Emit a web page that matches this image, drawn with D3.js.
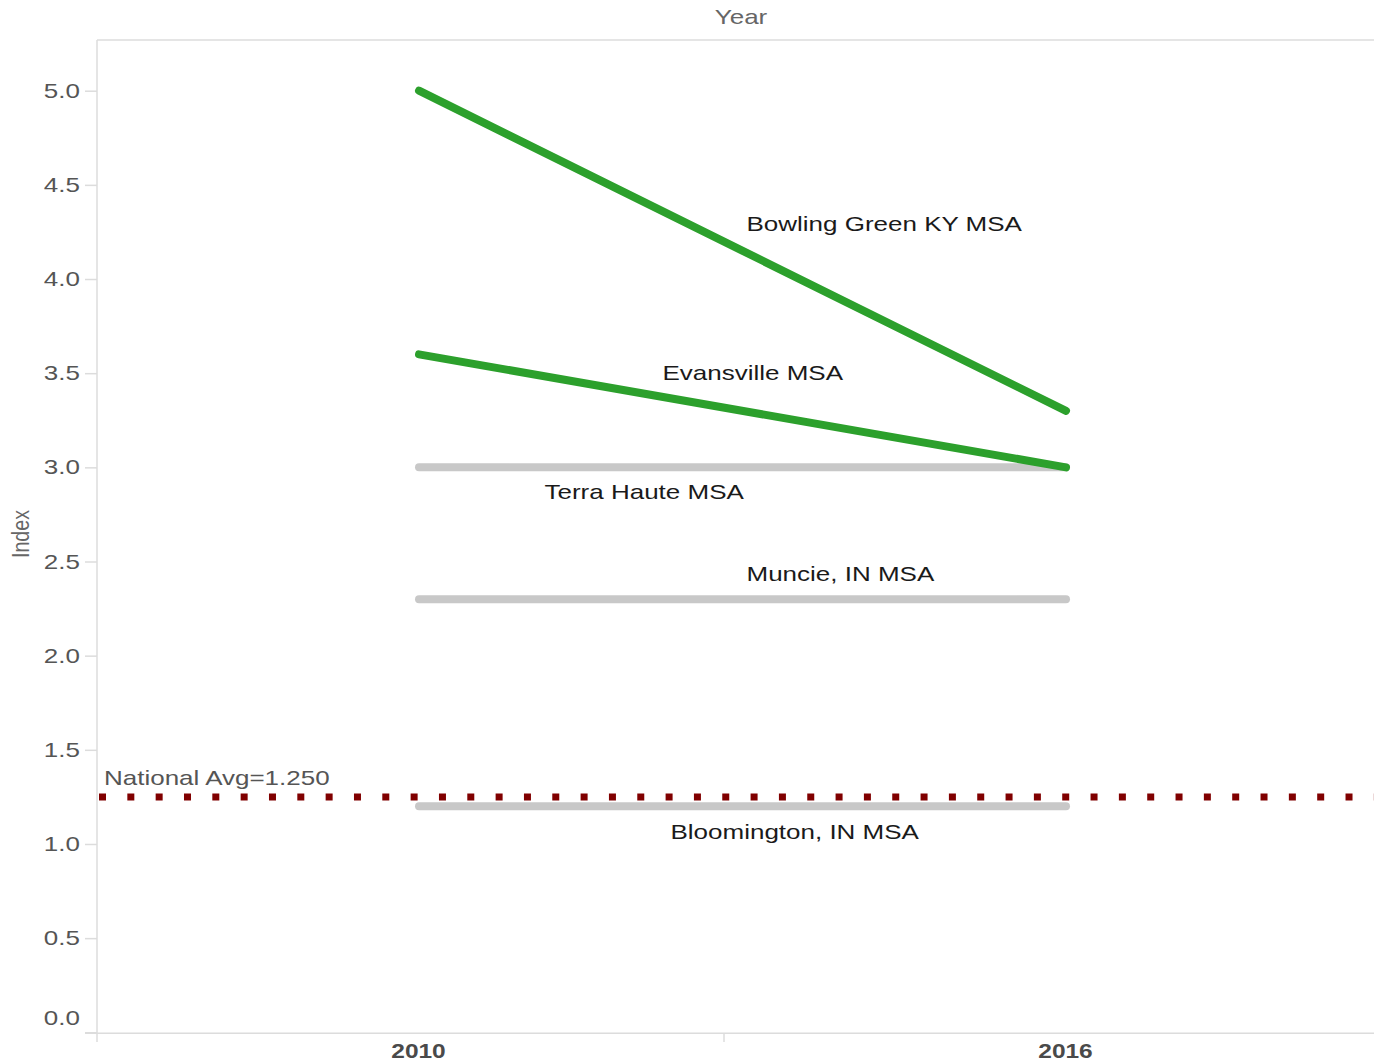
<!DOCTYPE html>
<html>
<head>
<meta charset="utf-8">
<script src="https://cdn.jsdelivr.net/npm/d3@7"></script>
<style>
  html, body { margin: 0; padding: 0; background: #fff; }
  svg { display: block; font-family: "Liberation Sans", Arial, sans-serif; }
</style>
</head>
<body>
<svg id="chart" width="1374" height="1063"></svg>
<script>
// ---- data ----
const years = [2010, 2016];
const yTicks = [0, 0.5, 1.0, 1.5, 2.0, 2.5, 3.0, 3.5, 4.0, 4.5, 5.0];
const seriesNames = ["Bowling Green KY MSA", "Evansville MSA", "Terra Haute MSA", "Muncie, IN MSA", "Bloomington, IN MSA"];
const bowlingGreen = [5.0, 3.3];
const evansville = [3.6, 3.0];
const terraHaute = [3.0, 3.0];
const muncie = [2.3, 2.3];
const bloomington = [1.2, 1.2];
const highlighted = [true, true, false, false, false];
const nationalAvg = 1.25;
const nationalAvgLabel = "National Avg=1.250";
const xTitle = "Year";
const yTitle = "Index";

// ---- style / layout ----
const SX = 1.25; // horizontal text stretch
const FONT = 20.8;
const labelOffsets = [[4, -20], [-80, -31], [-198, 32], [4, -18], [-72, 33]];

const svg = d3.select("#chart");
const W = 1374;
const mLeft = 97, mTop = 40, mBottom = 1033.3, paneRight = 1351;

const x = d3.scaleLinear().domain([2010, 2016]).range([419, 1066]);
const y = d3.scaleLinear().domain([0, 5]).range([1032.3, 90.7]);

const gridColor = "#dcdcdc";

// frame lines
svg.append("line").attr("x1", mLeft).attr("x2", W).attr("y1", mTop).attr("y2", mTop)
  .attr("stroke", gridColor).attr("stroke-width", 1.5);
svg.append("line").attr("x1", mLeft).attr("x2", mLeft).attr("y1", mTop).attr("y2", 1042)
  .attr("stroke", gridColor).attr("stroke-width", 1.5);
svg.append("line").attr("x1", 85).attr("x2", W).attr("y1", mBottom).attr("y2", mBottom)
  .attr("stroke", gridColor).attr("stroke-width", 1.5);
// divider tick between year headers
svg.append("line").attr("x1", (mLeft + paneRight) / 2).attr("x2", (mLeft + paneRight) / 2)
  .attr("y1", mBottom).attr("y2", 1042).attr("stroke", gridColor).attr("stroke-width", 1.5);

// y axis
const yAxis = d3.axisLeft(y).tickValues(yTicks).tickSize(12).tickFormat(d3.format(".1f"));
const gy = svg.append("g").attr("transform", `translate(${mLeft},0)`).call(yAxis);
gy.select(".domain").remove();
gy.selectAll(".tick line").attr("stroke", gridColor).attr("stroke-width", 1.5);
gy.selectAll(".tick text")
  .attr("x", null).attr("dy", null)
  .attr("fill", "#555")
  .style("font-size", FONT + "px")
  .style("font-family", "'Liberation Sans', Arial, sans-serif")
  .attr("text-anchor", "end")
  .attr("transform", d => `translate(-17,${d === 0 ? -8 : 6.5}) scale(${SX},1)`);

// x axis labels (bold years)
const xAxis = d3.axisBottom(x).tickValues(years).tickSize(0).tickFormat(d3.format("d"));
const gx = svg.append("g").attr("transform", `translate(0,${mBottom})`).call(xAxis);
gx.select(".domain").remove();
gx.selectAll(".tick text")
  .attr("y", null).attr("dy", null)
  .attr("fill", "#4a4a4a")
  .style("font-size", "19.6px")
  .style("font-weight", "bold")
  .style("font-family", "'Liberation Sans', Arial, sans-serif")
  .attr("text-anchor", "middle")
  .attr("transform", `translate(-1,24.5) scale(${SX},1)`);

// titles
svg.append("text").text(xTitle)
  .attr("transform", `translate(741,24) scale(${SX},1)`)
  .attr("text-anchor", "middle").attr("fill", "#666")
  .style("font-size", FONT + "px");
svg.append("text").text(yTitle)
  .attr("transform", `translate(29,534) scale(${SX},1) rotate(-90)`)
  .attr("text-anchor", "middle").attr("fill", "#666")
  .style("font-size", "19.6px");

// series
const series = [bowlingGreen, evansville, terraHaute, muncie, bloomington].map((vals, i) => ({
  name: seriesNames[i], hi: highlighted[i], pts: years.map((yr, j) => [yr, vals[j]])
}));
const line = d3.line().x(d => x(d[0])).y(d => y(d[1]));

const order = series.slice().sort((a, b) => (a.hi === b.hi ? 0 : a.hi ? 1 : -1));
svg.append("g").selectAll("path").data(order).join("path")
  .attr("d", d => line(d.pts))
  .attr("fill", "none")
  .attr("stroke", d => d.hi ? "#2ca02c" : "#c8c8c8")
  .attr("stroke-width", 8)
  .attr("stroke-linecap", "round");

// national average reference line
svg.append("line")
  .attr("x1", 99).attr("x2", W)
  .attr("y1", y(nationalAvg)).attr("y2", y(nationalAvg))
  .attr("stroke", "#800000").attr("stroke-width", 7)
  .attr("stroke-dasharray", "7 21.33");
svg.append("text").text(nationalAvgLabel)
  .attr("transform", `translate(104,${y(nationalAvg) - 12}) scale(${SX},1)`)
  .attr("fill", "#555").style("font-size", FONT + "px");

// series labels
svg.append("g").selectAll("text").data(series).join("text")
  .text(d => d.name)
  .attr("transform", (d, i) => {
    const mx = x((years[0] + years[1]) / 2);
    const my = y((d.pts[0][1] + d.pts[1][1]) / 2);
    return `translate(${mx + labelOffsets[i][0]},${my + labelOffsets[i][1]}) scale(${SX},1)`;
  })
  .attr("fill", "#1a1a1a")
  .style("font-size", FONT + "px");
</script>
</body>
</html>
